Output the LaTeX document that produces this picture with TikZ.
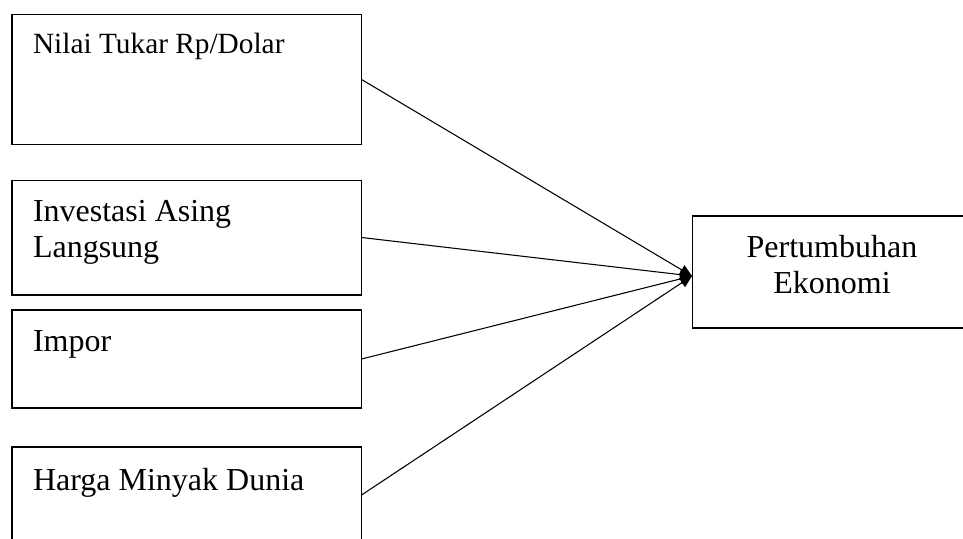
\documentclass[tikz,border=0pt]{standalone}
\usepackage{fontspec}
\setmainfont{Liberation Serif}
\usetikzlibrary{arrows.meta,positioning}
\tikzset{
	-{Triangle[length=4.5pt,width=4pt]}, line width=0.8pt,
	box/.style = {rectangle, draw, minimum width=130.9pt, inner sep=0pt},
	txt/.style = {anchor=north west, inner sep=0pt, align=left, font=\fontsize{12}{13.5}\selectfont}
}

\begin{document}
\begin{tikzpicture}[x=0.375pt,y=-0.375pt]

    \useasboundingbox (0,0) rectangle (963,539);
    \clip (0,0) rectangle (963,539);

    \node[box, minimum height=48.4pt] (kurs) at (186.5,79.5) {};
    \node[box, minimum height=43.1pt] (pma) at (186.5,237.5) {};
    \node[box, minimum height=36.75pt] (impor) at (186.5,359) {};
    \node[box, minimum height=36pt] (minyak) at (186.5,495) {};
    \node[box, minimum width=112pt, minimum height=42pt, anchor=west] (pe) at (692,272) {};

    \node[txt, font=\fontsize{11}{12.5}\selectfont] (kursT) at ([xshift=7.9pt,yshift=-6.8pt]kurs.north west) {Nilai Tukar Rp/Dolar};
    \node[txt] (pmaT) at ([xshift=7.9pt,yshift=-7.5pt]pma.north west) {Investasi Asing\\Langsung};
    \node[txt] (imporT) at ([xshift=7.9pt,yshift=-7.8pt]impor.north west) {Impor};
    \node[txt] (minyakT) at ([xshift=7.9pt,yshift=-7.8pt]minyak.north west) {Harga Minyak Dunia};
    \node[txt, anchor=north, align=center] (peT) at ([xshift=52.5pt,yshift=-7.1pt]pe.north west) {Pertumbuhan\\Ekonomi};

    \coordinate (tip) at ([yshift=-1.5pt]pe.west);
    \foreach \n in {kurs,pma,impor,minyak}
        \draw (\n.east) -- (tip);

\end{tikzpicture}
\end{document}
